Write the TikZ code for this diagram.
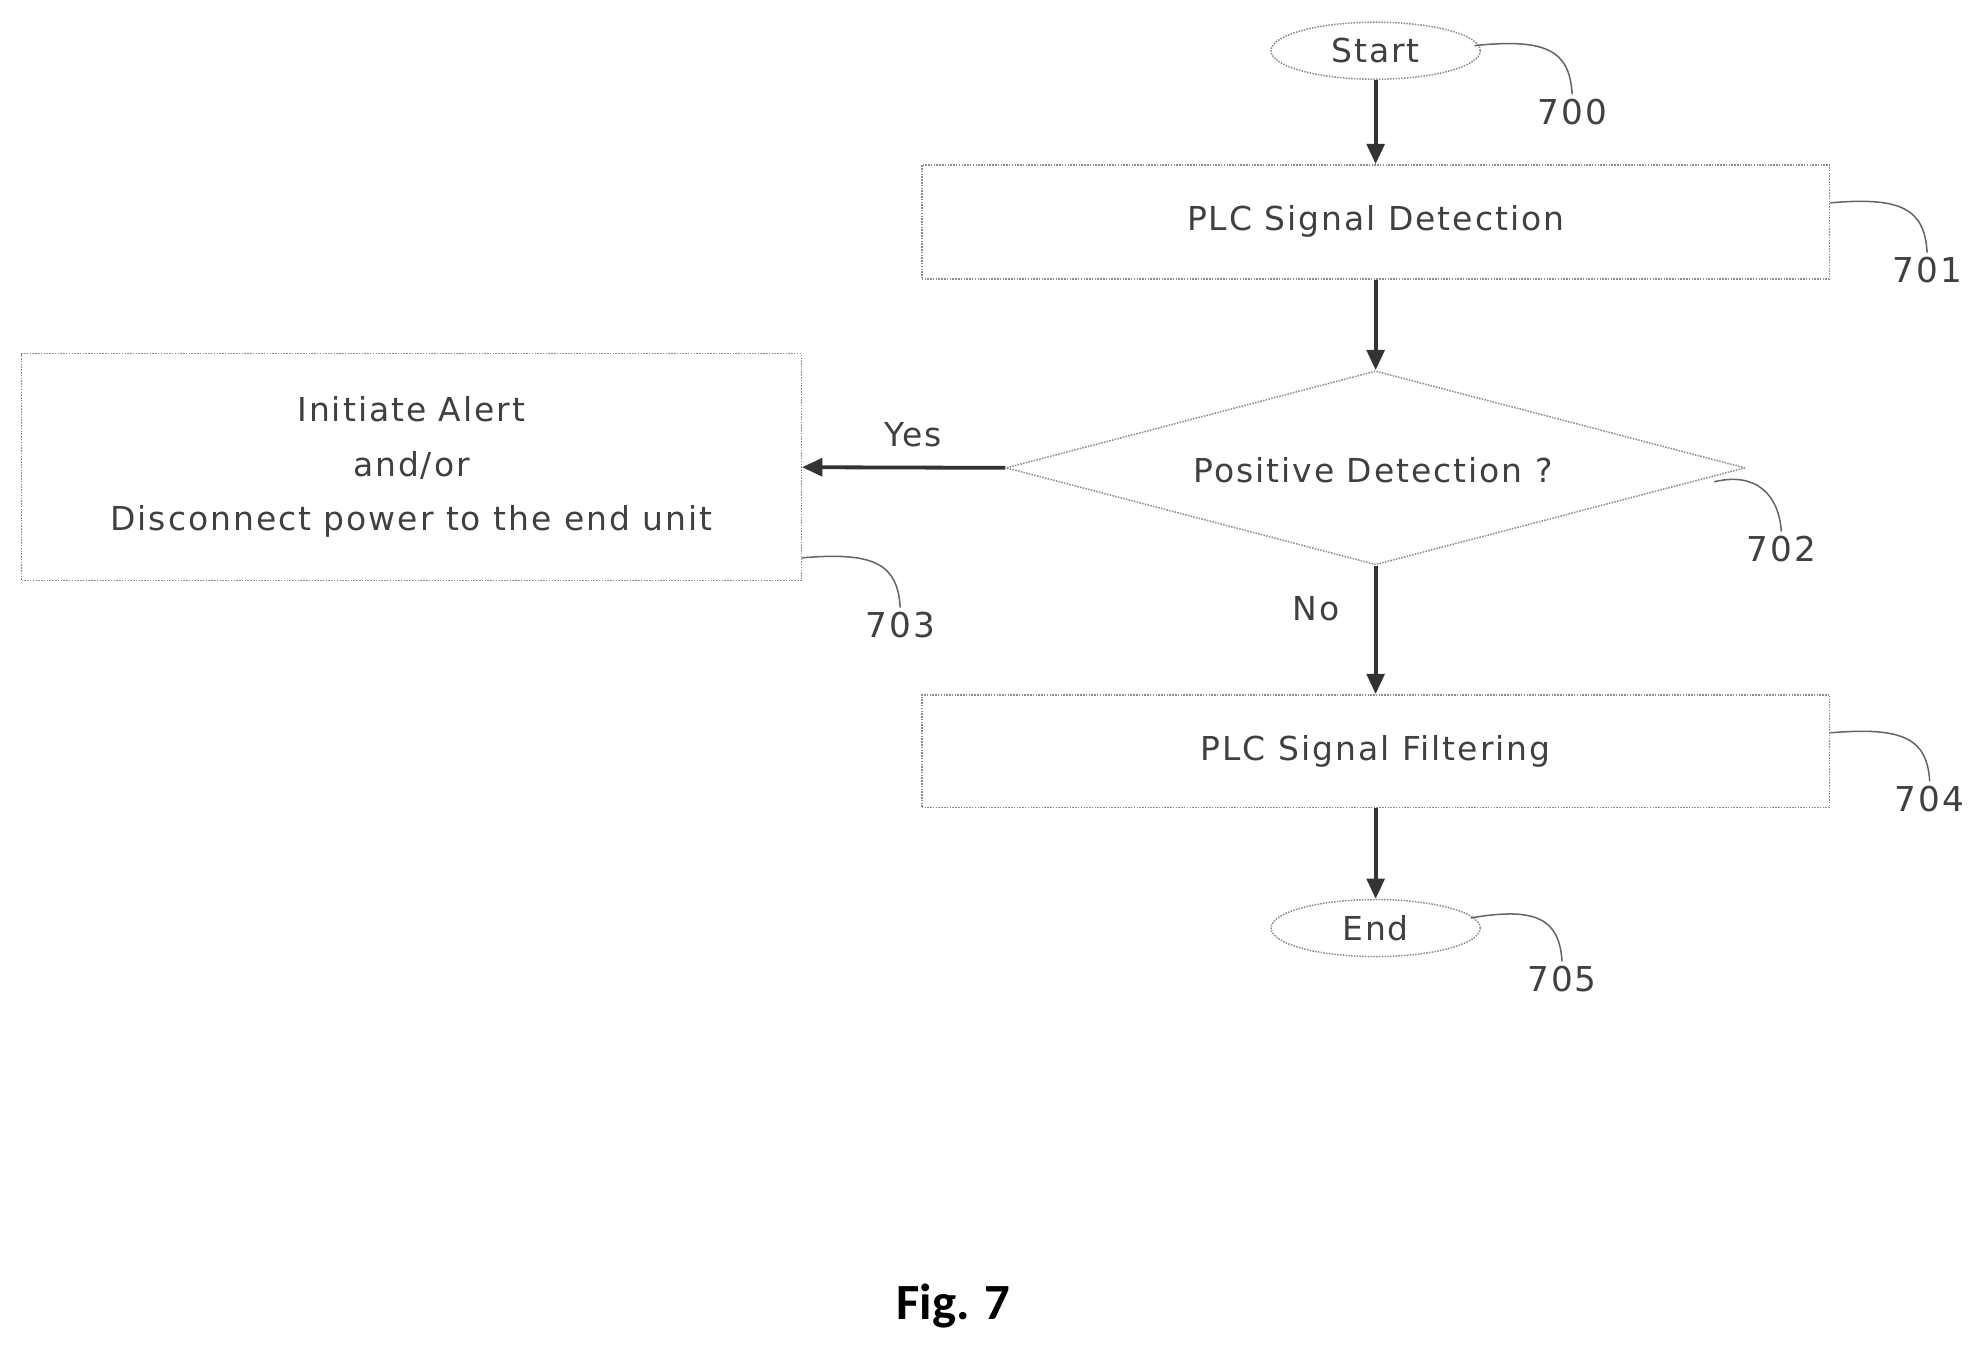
\documentclass[tikz,border=0pt]{standalone}
\usepackage{fontspec}
\setmainfont{DejaVu Sans}[LetterSpace=6]
\newfontfamily\figfont{Carlito}
\usetikzlibrary{shapes.geometric,arrows.meta}
\begin{document}
\begin{tikzpicture}[x=1pt,y=-1pt,
  every node/.style={text=black!75,font=\fontsize{26}{43}\selectfont},
  box/.style={draw=black!45,densely dotted,line width=1.2pt,rectangle,inner sep=0pt},
  term/.style={draw=black!45,densely dotted,line width=1.2pt,ellipse,minimum width=165pt,minimum height=45pt,inner sep=0pt},
  arr/.style={line width=3pt,draw=black!80,-{Triangle[length=16pt,width=14pt]}},
  lead/.style={draw=black!60,line width=1.2pt},
  ref/.style={font=\fontsize{27}{30}\selectfont,text=black!75}]
\useasboundingbox (0,0) rectangle (1568,1071);
\node[term] (start) at (1085,40) {Start};
\node[box,minimum width=716pt,minimum height=90pt] (b701) at (1085,175) {PLC Signal Detection};
\node[draw=black!45,densely dotted,line width=1.2pt,diamond,aspect=3.75,minimum width=583pt,minimum height=153pt,inner sep=0pt] (d702) at (1085,369) {};
\node at (1083,371) {Positive Detection ?};
\node[box,minimum width=615pt,minimum height=179pt,align=center] (b703) at (324.5,368.5) {Initiate Alert\\and/or\\Disconnect power to the end unit};
\node[box,minimum width=716pt,minimum height=89pt] (b704) at (1085,592.5) {PLC Signal Filtering};
\node[term] (end) at (1085,732) {End};
\draw[arr] (start) -- (b701);
\draw[arr] (b701) -- (d702.north);
\draw[arr] (d702.west) -- (b703.east);
\draw[arr] (d702.south) -- (b704);
\draw[arr] (b704) -- (end);
\node (yes) at (720,343) {Yes};
\node (no) at (1038,480) {No};
\node[ref] (r700) at (1240,88) {700};
\node[ref] (r701) at (1520,213) {701};
\node[ref] (r702) at (1405,433) {702};
\node[ref] (r703) at (710,493) {703};
\node[ref] (r704) at (1522,630) {704};
\node[ref] (r705) at (1232,772) {705};
\draw[lead] (1163,36) .. controls (1220,30) and (1238,40) .. (r700.north);
\draw[lead] (b701.east |- 0,160) .. controls (1500,155) and (1518,165) .. (r701.north);
\draw[lead] (1352,380) .. controls (1385,372) and (1403,390) .. (r702.north);
\draw[lead] (b703.east |- 0,440) .. controls (690,435) and (708,445) .. (r703.north);
\draw[lead] (b704.east |- 0,578) .. controls (1502,573) and (1520,583) .. (r704.north);
\draw[lead] (1160,724) .. controls (1212,715) and (1230,725) .. (r705.north);
\node[font=\figfont\bfseries\fontsize{40}{46}\selectfont,text=black] (fig) at (752,1030) {Fig. 7};
\end{tikzpicture}
\end{document}
